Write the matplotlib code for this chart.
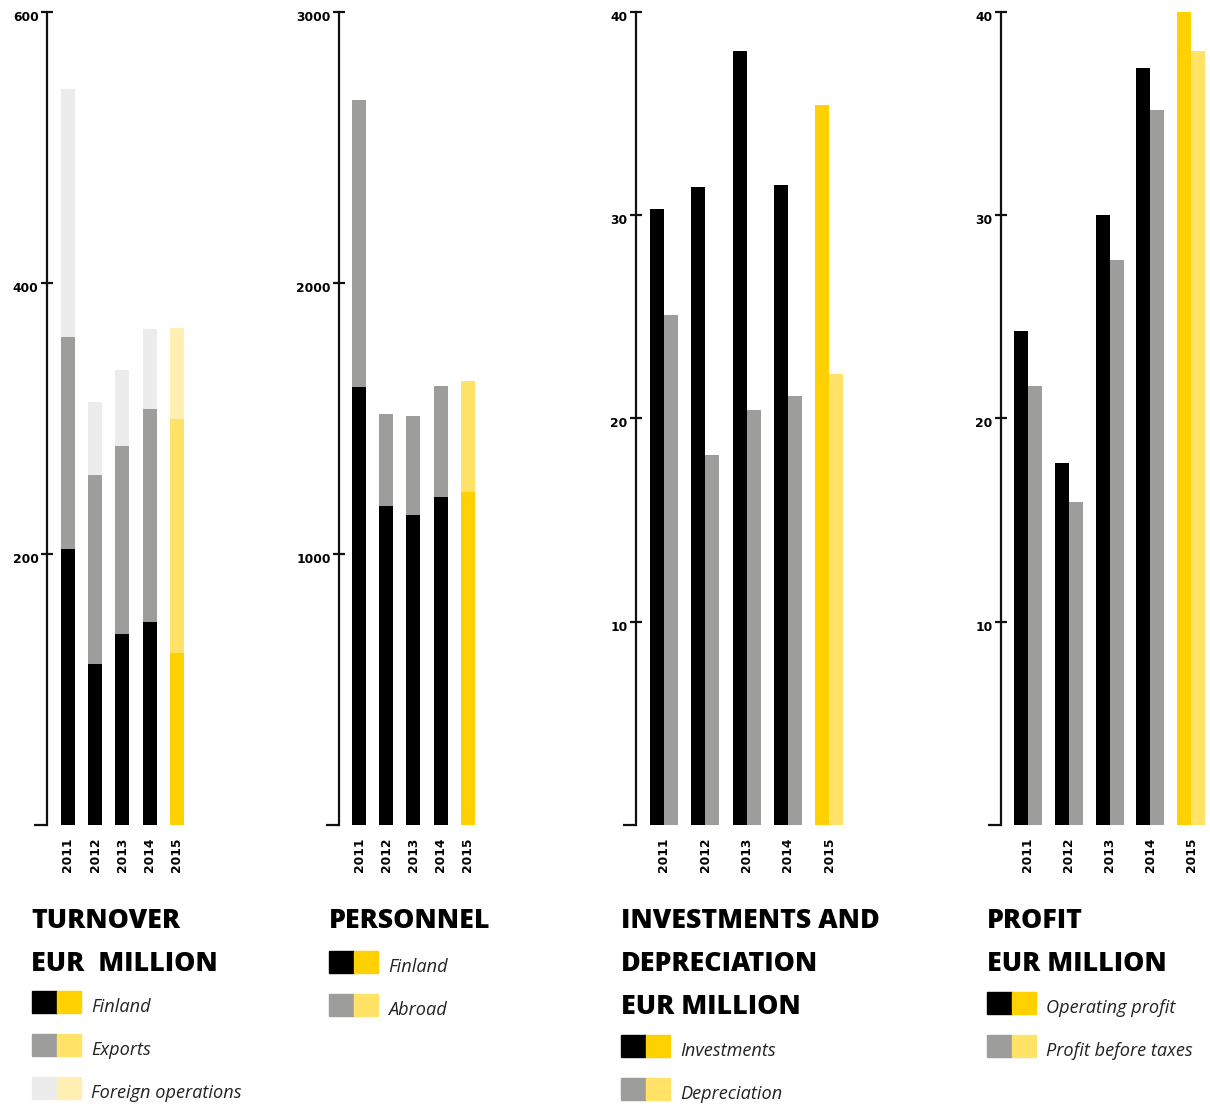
import numpy as np
import matplotlib
matplotlib.use("Agg")
import matplotlib.pyplot as plt
from matplotlib.patches import Rectangle
from matplotlib.transforms import ScaledTranslation

W, H = 1210, 1106

years = ["2011", "2012", "2013", "2014", "2015"]

# turnover, EUR million (stacked)
turn_finland = [204, 119, 141, 150, 127]
turn_exports = [156, 139, 139, 157, 173]
turn_foreign = [183, 54, 56, 59, 67]

# personnel (stacked)
pers_finland = [1616, 1177, 1144, 1210, 1229]
pers_abroad = [1059, 340, 365, 410, 409]

# investments and depreciation, EUR million
investments = [30.3, 31.4, 38.1, 31.5, 35.4]
depreciation = [25.1, 18.2, 20.4, 21.1, 22.2]

# profit, EUR million
operating_profit = [24.3, 17.8, 30.0, 37.25, 40.0]
profit_before_taxes = [21.6, 15.9, 27.8, 35.2, 38.1]

# colours: grey tones for 2011-2014, yellow tones for 2015
dark = ["#000000"] * 4 + ["#FFD100"]
mid = ["#9D9D9C"] * 4 + ["#FFE266"]
light = ["#ECECEC"] * 4 + ["#FFEFB3"]

AXC = "#111111"
TICKFONT = dict(family="DejaVu Sans", weight="bold", size=8.8)

fig = plt.figure(figsize=(W / 100, H / 100), dpi=100)


def make_ax(left_px, c0_px, spacing_px, ymax, yticks):
    top, bottom = 12, 825
    right_px = c0_px + 4 * spacing_px + spacing_px * 0.6
    ax = fig.add_axes([left_px / W, 1 - bottom / H, (right_px - left_px) / W, (bottom - top) / H])
    ax.set_xlim(-(c0_px - left_px) / spacing_px, 4 + 0.6)
    ax.set_ylim(0, ymax)
    for s in ["top", "right", "bottom"]:
        ax.spines[s].set_visible(False)
    ax.spines["left"].set_color(AXC)
    ax.spines["left"].set_linewidth(1.6)
    ax.spines["left"].set_capstyle("projecting")
    ax.set_yticks(yticks)
    ax.set_yticklabels([str(t) for t in yticks], fontdict=TICKFONT)
    ax.tick_params(axis="y", which="major", direction="inout", length=8, width=1.6,
                   color=AXC, pad=2)
    ax.set_yticks([0], minor=True)
    ax.tick_params(axis="y", which="minor", direction="out", length=9.5, width=1.6, color=AXC)
    for lab in ax.get_yticklabels():
        lab.set_transform(lab.get_transform() + ScaledTranslation(0, -4 / 100, fig.dpi_scale_trans))
    x = np.arange(len(years))
    ax.set_xticks(x)
    ax.set_xticklabels(years, rotation=90, fontdict=TICKFONT, va="top")
    ax.tick_params(axis="x", length=0, pad=9)
    ax.patch.set_visible(False)
    return ax, x


# panel 1: turnover
ax1, x = make_ax(47, 68, 27.2, 600, [200, 400, 600])
bw = 14 / 27.2
ax1.bar(x, turn_finland, bw, color=dark)
ax1.bar(x, turn_exports, bw, bottom=turn_finland, color=mid)
ax1.bar(x, turn_foreign, bw, bottom=np.add(turn_finland, turn_exports), color=light)

# panel 2: personnel
ax2, x = make_ax(339, 359, 27.2, 3000, [1000, 2000, 3000])
ax2.bar(x, pers_finland, bw, color=dark)
ax2.bar(x, pers_abroad, bw, bottom=pers_finland, color=mid)

# panel 3: investments and depreciation
ax3, x = make_ax(636, 664, 41.25, 40, [10, 20, 30, 40])
bw3 = 14 / 41.25
ax3.bar(x - bw3 / 2, investments, bw3, color=dark)
ax3.bar(x + bw3 / 2, depreciation, bw3, color=mid)

# panel 4: profit
ax4, x = make_ax(1001, 1028, 40.75, 40, [10, 20, 30, 40])
bw4 = 14 / 40.75
ax4.bar(x - bw4 / 2, operating_profit, bw4, color=dark, clip_on=False)
ax4.bar(x + bw4 / 2, profit_before_taxes, bw4, color=mid)


# titles and legends
def title(x, y, s):
    fig.text(x / W, 1 - (y + 3) / H, s, family="Open Sans", weight="heavy", size=19.3,
             va="center", ha="left", color="#000000")


def legend_row(x, y, c1, c2, s):
    fig.patches.append(Rectangle((x / W, 1 - (y + 11) / H), 25 / W, 22 / H,
                                 color=c1, transform=fig.transFigure, figure=fig))
    fig.patches.append(Rectangle(((x + 25) / W, 1 - (y + 11) / H), 24 / W, 22 / H,
                                 color=c2, transform=fig.transFigure, figure=fig))
    fig.text((x + 59) / W, 1 - (y + 5) / H, s, family="Open Sans", style="italic",
             size=13.1, va="center", ha="left", color="#222222")


title(31, 918, "TURNOVER")
title(31, 961, "EUR  MILLION")
legend_row(32, 1002, dark[0], dark[4], "Finland")
legend_row(32, 1045, mid[0], mid[4], "Exports")
legend_row(32, 1088, light[0], light[4], "Foreign operations")

title(329, 918, "PERSONNEL")
legend_row(329, 962, dark[0], dark[4], "Finland")
legend_row(329, 1005, mid[0], mid[4], "Abroad")

title(621, 918, "INVESTMENTS AND")
title(621, 961, "DEPRECIATION")
title(621, 1004, "EUR MILLION")
legend_row(621, 1046, dark[0], dark[4], "Investments")
legend_row(621, 1089, mid[0], mid[4], "Depreciation")

title(987, 918, "PROFIT")
title(987, 961, "EUR MILLION")
legend_row(987, 1003, dark[0], dark[4], "Operating profit")
legend_row(987, 1046, mid[0], mid[4], "Profit before taxes")

fig.savefig("out.png", dpi=100)
